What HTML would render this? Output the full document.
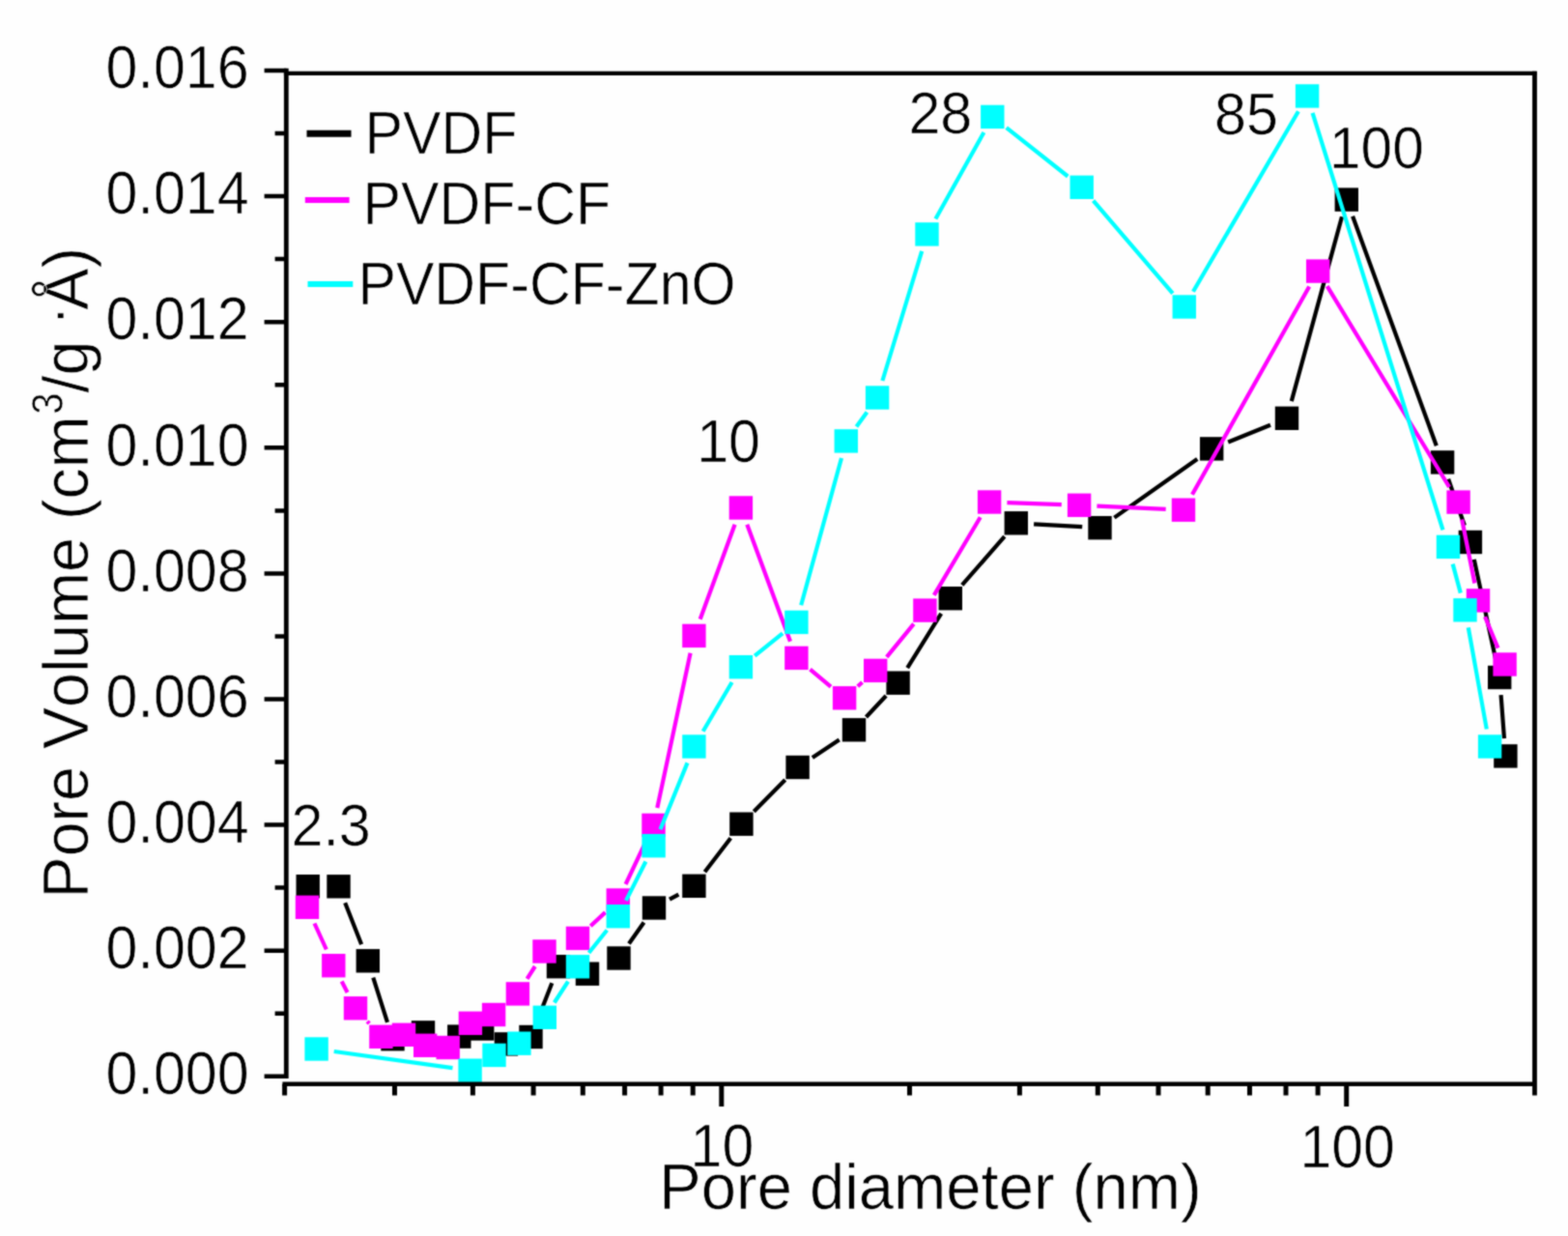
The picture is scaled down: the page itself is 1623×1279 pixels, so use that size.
<!DOCTYPE html>
<html lang="en">
<head>
<meta charset="utf-8">
<title>Pore size distribution</title>
<style>
html,body{margin:0;padding:0;background:#fefefe;}
body{width:1623px;height:1279px;overflow:hidden;}
svg{display:block;}
</style>
</head>
<body>
<svg width="1623" height="1279" viewBox="0 0 1623 1279">
<defs><filter id="soft" x="0" y="0" width="100%" height="100%" filterUnits="objectBoundingBox" color-interpolation-filters="sRGB"><feConvolveMatrix order="3" kernelMatrix="1 2 1 2 8 2 1 2 1" divisor="20" edgeMode="duplicate" preserveAlpha="true"/></filter></defs>
<g filter="url(#soft)">
<rect width="1623" height="1279" fill="#fefefe"/>
<g class="s-pvdf" fill="#000000" stroke="#000000">
<path d="M357.2 934.3L374.1 977.3M386.3 1011.7L401.0 1057.8M556.2 1056.0L571.3 1017.2M651.0 976.5L666.5 954.5M693.0 930.7L702.4 925.6M729.5 902.3L756.3 867.2M780.3 839.7L812.7 807.0M840.9 783.9L868.7 765.4M896.5 742.0L917.1 720.0M939.2 691.1L974.2 634.8M995.8 605.4L1039.8 555.1M1070.1 542.3L1120.2 545.2M1153.4 535.6L1239.3 475.0M1271.2 457.5L1315.0 439.7M1336.8 415.1L1389.0 224.3M1400.1 223.8L1486.8 461.2M1499.1 495.7L1515.9 543.7M1525.8 578.9L1548.3 683.1M1553.6 719.2L1557.0 764.2" fill="none" stroke-width="4.2"/>
<rect x="306.5" y="905.0" width="24.4" height="24.4" stroke="none"/>
<rect x="338.3" y="905.1" width="24.4" height="24.4" stroke="none"/>
<rect x="368.6" y="982.1" width="24.4" height="24.4" stroke="none"/>
<rect x="394.3" y="1063.0" width="24.4" height="24.4" stroke="none"/>
<rect x="425.8" y="1056.2" width="24.4" height="24.4" stroke="none"/>
<rect x="463.1" y="1060.4" width="24.4" height="24.4" stroke="none"/>
<rect x="487.0" y="1052.3" width="24.4" height="24.4" stroke="none"/>
<rect x="511.7" y="1068.2" width="24.4" height="24.4" stroke="none"/>
<rect x="537.3" y="1060.8" width="24.4" height="24.4" stroke="none"/>
<rect x="565.8" y="988.0" width="24.4" height="24.4" stroke="none"/>
<rect x="595.8" y="995.5" width="24.4" height="24.4" stroke="none"/>
<rect x="628.3" y="979.3" width="24.4" height="24.4" stroke="none"/>
<rect x="664.8" y="927.3" width="24.4" height="24.4" stroke="none"/>
<rect x="706.2" y="904.6" width="24.4" height="24.4" stroke="none"/>
<rect x="755.2" y="840.5" width="24.4" height="24.4" stroke="none"/>
<rect x="813.4" y="781.8" width="24.4" height="24.4" stroke="none"/>
<rect x="871.8" y="743.1" width="24.4" height="24.4" stroke="none"/>
<rect x="917.4" y="694.5" width="24.4" height="24.4" stroke="none"/>
<rect x="971.6" y="607.0" width="24.4" height="24.4" stroke="none"/>
<rect x="1039.6" y="529.1" width="24.4" height="24.4" stroke="none"/>
<rect x="1126.3" y="534.0" width="24.4" height="24.4" stroke="none"/>
<rect x="1242.0" y="452.2" width="24.4" height="24.4" stroke="none"/>
<rect x="1319.8" y="420.6" width="24.4" height="24.4" stroke="none"/>
<rect x="1381.6" y="194.4" width="24.4" height="24.4" stroke="none"/>
<rect x="1480.9" y="466.2" width="24.4" height="24.4" stroke="none"/>
<rect x="1509.7" y="548.8" width="24.4" height="24.4" stroke="none"/>
<rect x="1540.0" y="688.8" width="24.4" height="24.4" stroke="none"/>
<rect x="1546.2" y="770.2" width="24.4" height="24.4" stroke="none"/>
</g>
<g class="s-cf" fill="#ff00ff" stroke="#ff00ff">
<path d="M325.5 955.5L337.8 982.5M353.7 1015.5L359.6 1027.0M380.2 1056.9L382.2 1059.2M545.6 1012.9L553.8 1000.0M611.3 958.3L626.5 944.1M647.6 915.0L668.7 870.4M680.3 836.0L714.6 675.8M724.7 640.7L760.6 542.7M773.3 542.7L818.0 663.7M838.5 692.6L860.0 710.6M887.8 710.2L892.5 706.0M917.8 679.8L945.8 645.7M966.8 615.9L1014.7 535.2M1042.4 520.1L1098.8 522.2M1135.4 523.6L1206.7 526.9M1234.0 511.8L1355.2 296.5M1373.7 296.2L1500.1 504.0M1513.2 537.5L1526.4 603.5M1537.1 638.3L1550.5 670.6" fill="none" stroke-width="4.2"/>
<rect x="305.8" y="926.6" width="24.4" height="24.4" stroke="none"/>
<rect x="333.1" y="987.0" width="24.4" height="24.4" stroke="none"/>
<rect x="355.8" y="1031.1" width="24.4" height="24.4" stroke="none"/>
<rect x="382.2" y="1060.6" width="24.4" height="24.4" stroke="none"/>
<rect x="405.8" y="1058.6" width="24.4" height="24.4" stroke="none"/>
<rect x="428.0" y="1069.6" width="24.4" height="24.4" stroke="none"/>
<rect x="451.5" y="1071.8" width="24.4" height="24.4" stroke="none"/>
<rect x="474.7" y="1046.6" width="24.4" height="24.4" stroke="none"/>
<rect x="498.9" y="1037.8" width="24.4" height="24.4" stroke="none"/>
<rect x="523.7" y="1016.2" width="24.4" height="24.4" stroke="none"/>
<rect x="551.3" y="972.3" width="24.4" height="24.4" stroke="none"/>
<rect x="585.8" y="958.7" width="24.4" height="24.4" stroke="none"/>
<rect x="627.6" y="919.3" width="24.4" height="24.4" stroke="none"/>
<rect x="664.3" y="841.7" width="24.4" height="24.4" stroke="none"/>
<rect x="706.2" y="645.7" width="24.4" height="24.4" stroke="none"/>
<rect x="754.7" y="513.3" width="24.4" height="24.4" stroke="none"/>
<rect x="812.2" y="668.7" width="24.4" height="24.4" stroke="none"/>
<rect x="861.9" y="710.1" width="24.4" height="24.4" stroke="none"/>
<rect x="894.0" y="681.7" width="24.4" height="24.4" stroke="none"/>
<rect x="945.2" y="619.4" width="24.4" height="24.4" stroke="none"/>
<rect x="1011.9" y="507.3" width="24.4" height="24.4" stroke="none"/>
<rect x="1104.9" y="510.6" width="24.4" height="24.4" stroke="none"/>
<rect x="1212.8" y="515.5" width="24.4" height="24.4" stroke="none"/>
<rect x="1352.0" y="268.4" width="24.4" height="24.4" stroke="none"/>
<rect x="1497.4" y="507.4" width="24.4" height="24.4" stroke="none"/>
<rect x="1517.8" y="609.2" width="24.4" height="24.4" stroke="none"/>
<rect x="1545.4" y="675.3" width="24.4" height="24.4" stroke="none"/>
</g>
<g class="s-zno" fill="#00ffff" stroke="#00ffff">
<path d="M345.7 1088.0L468.5 1105.2M573.8 1037.5L588.0 1015.6M609.5 986.0L628.3 962.5M648.0 931.9L668.4 891.5M683.5 858.3L711.5 789.4M727.7 756.7L757.6 706.0M781.2 678.7L810.1 655.4M829.2 626.3L871.0 474.0M886.5 441.5L897.4 426.4M913.4 394.0L954.2 259.9M968.4 226.4L1018.4 136.9M1041.7 132.2L1105.3 182.5M1131.6 207.7L1213.9 303.6M1235.0 301.7L1343.9 115.2M1358.6 116.9L1493.5 548.4M1503.7 583.6L1511.8 613.6M1519.8 649.3L1538.8 754.5" fill="none" stroke-width="4.2"/>
<rect x="315.4" y="1073.3" width="24.4" height="24.4" stroke="none"/>
<rect x="474.4" y="1095.5" width="24.4" height="24.4" stroke="none"/>
<rect x="499.3" y="1079.7" width="24.4" height="24.4" stroke="none"/>
<rect x="525.2" y="1067.5" width="24.4" height="24.4" stroke="none"/>
<rect x="551.6" y="1040.6" width="24.4" height="24.4" stroke="none"/>
<rect x="585.8" y="988.1" width="24.4" height="24.4" stroke="none"/>
<rect x="627.6" y="936.0" width="24.4" height="24.4" stroke="none"/>
<rect x="664.4" y="863.0" width="24.4" height="24.4" stroke="none"/>
<rect x="706.2" y="760.3" width="24.4" height="24.4" stroke="none"/>
<rect x="754.7" y="678.0" width="24.4" height="24.4" stroke="none"/>
<rect x="812.2" y="631.7" width="24.4" height="24.4" stroke="none"/>
<rect x="863.6" y="444.2" width="24.4" height="24.4" stroke="none"/>
<rect x="895.9" y="399.3" width="24.4" height="24.4" stroke="none"/>
<rect x="947.3" y="230.2" width="24.4" height="24.4" stroke="none"/>
<rect x="1015.1" y="108.7" width="24.4" height="24.4" stroke="none"/>
<rect x="1107.5" y="181.6" width="24.4" height="24.4" stroke="none"/>
<rect x="1213.6" y="305.3" width="24.4" height="24.4" stroke="none"/>
<rect x="1340.9" y="87.2" width="24.4" height="24.4" stroke="none"/>
<rect x="1486.8" y="553.7" width="24.4" height="24.4" stroke="none"/>
<rect x="1504.3" y="619.1" width="24.4" height="24.4" stroke="none"/>
<rect x="1529.9" y="760.3" width="24.4" height="24.4" stroke="none"/>
</g>
<path d="M293.9 75.9H1590.6" stroke="#000" stroke-width="4.2" fill="none"/>
<path d="M1588.5 73.8V1133.5" stroke="#000" stroke-width="4.8" fill="none"/>
<path d="M296.3 70.8V1116.0" stroke="#000" stroke-width="4.8" fill="none"/>
<path d="M292.4 1121.7H1588.5" stroke="#000" stroke-width="4.6" fill="none"/>
<path d="M273.6 1113.8H296.3M284.6 1048.8H296.3M273.6 983.7H296.3M284.6 918.6H296.3M273.6 853.6H296.3M284.6 788.5H296.3M273.6 723.5H296.3M284.6 658.5H296.3M273.6 593.4H296.3M284.6 528.4H296.3M273.6 463.3H296.3M284.6 398.2H296.3M273.6 333.2H296.3M284.6 268.1H296.3M273.6 203.1H296.3M284.6 138.0H296.3M273.6 73.0H296.3" stroke="#000" stroke-width="4.5" fill="none"/>
<path d="M294.6 1121.7V1133.5M408.5 1121.7V1133.5M489.4 1121.7V1133.5M552.1 1121.7V1133.5M603.3 1121.7V1133.5M646.6 1121.7V1133.5M684.1 1121.7V1133.5M717.2 1121.7V1133.5M746.8 1121.7V1144.9M941.5 1121.7V1133.5M1055.4 1121.7V1133.5M1136.3 1121.7V1133.5M1199.0 1121.7V1133.5M1250.2 1121.7V1133.5M1293.5 1121.7V1133.5M1331.0 1121.7V1133.5M1364.1 1121.7V1133.5M1393.7 1121.7V1144.9" stroke="#000" stroke-width="5.0" fill="none"/>
<g font-family="'Liberation Sans', Arial, Helvetica, sans-serif" fill="#000" stroke="#fefefe" stroke-width="0.7" style="font-kerning:none">
<text transform="translate(257.7 1132.0) scale(0.9508 1)" font-size="62.26" text-anchor="end">0.000</text>
<text transform="translate(257.7 1001.9) scale(0.9508 1)" font-size="62.26" text-anchor="end">0.002</text>
<text transform="translate(257.7 871.8) scale(0.9508 1)" font-size="62.26" text-anchor="end">0.004</text>
<text transform="translate(257.7 741.7) scale(0.9508 1)" font-size="62.26" text-anchor="end">0.006</text>
<text transform="translate(257.7 611.6) scale(0.9508 1)" font-size="62.26" text-anchor="end">0.008</text>
<text transform="translate(257.7 481.5) scale(0.9508 1)" font-size="62.26" text-anchor="end">0.010</text>
<text transform="translate(257.7 351.4) scale(0.9508 1)" font-size="62.26" text-anchor="end">0.012</text>
<text transform="translate(257.7 221.3) scale(0.9508 1)" font-size="62.26" text-anchor="end">0.014</text>
<text transform="translate(257.7 91.2) scale(0.9508 1)" font-size="62.26" text-anchor="end">0.016</text>
<text transform="translate(747.4 1207.4) scale(0.9476 1)" font-size="62.26" text-anchor="middle">10</text>
<text transform="translate(1394.6 1207.8) scale(0.9476 1)" font-size="62.26" text-anchor="middle">100</text>
<text transform="translate(301.5 875.0) scale(0.9604 1)" font-size="61.64" text-anchor="start">2.3</text>
<text transform="translate(721.2 477.8) scale(0.9540 1)" font-size="62.06" text-anchor="start">10</text>
<text transform="translate(940.4 138.2) scale(0.9637 1)" font-size="61.43" text-anchor="start">28</text>
<text transform="translate(1257.0 138.8) scale(0.9637 1)" font-size="61.43" text-anchor="start">85</text>
<text transform="translate(1376.0 174.4) scale(0.9572 1)" font-size="61.22" text-anchor="start">100</text>
<text transform="translate(377.6 159.4) scale(0.9398 1)" font-size="62.99" text-anchor="start">PVDF</text>
<text transform="translate(375.6 231.8) scale(0.9398 1)" font-size="62.99" text-anchor="start">PVDF-CF</text>
<text transform="translate(370.4 314.8) scale(0.9398 1)" font-size="62.99" text-anchor="start">PVDF-CF-ZnO</text>
<text transform="translate(682.3 1251.3) scale(0.9815 1)" font-size="66.43" text-anchor="start">Pore diameter (nm)</text>
<text transform="translate(91.2 929.4) rotate(-90) scale(0.9619 1)" font-size="67.16" text-anchor="start">Pore Volume (cm</text>
<text transform="translate(64.9 428.8) rotate(-90) scale(0.8633 1)" font-size="46.33" text-anchor="start">3</text>
<text transform="translate(91.2 406.5) rotate(-90) scale(0.9619 1)" font-size="67.16" text-anchor="start">/g</text>
<text transform="translate(78.6 336.2) rotate(-90) scale(0.9604 1)" font-size="60.39" text-anchor="start">·</text>
<text transform="translate(91.2 320.7) rotate(-90) scale(0.9619 1)" font-size="67.16" text-anchor="start">Å)</text>
</g>
<path d="M317.5 138.3H363.5" stroke="#000" stroke-width="7"/>
<path d="M315.8 206.9H361.6" stroke="#ff00ff" stroke-width="6"/>
<path d="M318.5 294.1H365.3" stroke="#00ffff" stroke-width="6"/>
</g>
</svg>
</body>
</html>
